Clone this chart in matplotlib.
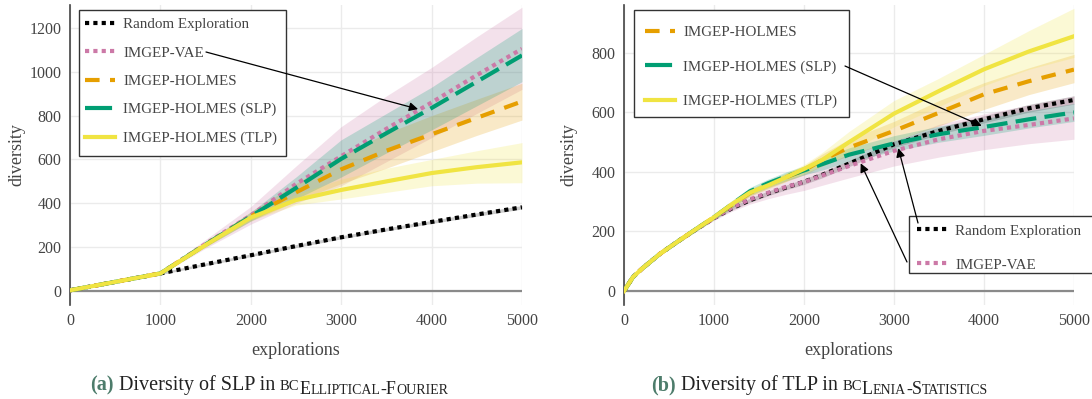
import matplotlib
matplotlib.use("Agg")
import matplotlib.pyplot as plt
from matplotlib.lines import Line2D
from matplotlib.patches import Rectangle
from matplotlib.text import Annotation

# ---------------- data: (a) SLP in BC Elliptical-Fourier ----------------
xa = [0, 1000, 1500, 2000, 2500, 3000, 3500, 4000, 4500, 5000]
a_random = [3, 80, 122, 163, 205, 245, 281, 315, 349, 382]
a_random_lo = [1, 75, 116, 157, 198, 238, 274, 308, 341, 374]
a_random_hi = [5, 85, 128, 169, 212, 252, 288, 322, 357, 390]
a_vae = [3, 80, 215, 345, 488, 615, 740, 860, 985, 1105]
a_vae_lo = [1, 75, 195, 305, 400, 480, 590, 700, 810, 920]
a_vae_hi = [5, 85, 235, 385, 570, 750, 890, 1020, 1160, 1295]
a_holmes = [3, 80, 212, 340, 450, 555, 640, 715, 790, 865]
a_holmes_lo = [1, 76, 202, 318, 410, 490, 560, 635, 710, 780]
a_holmes_hi = [5, 84, 222, 362, 490, 620, 720, 800, 875, 948]
a_slp = [3, 80, 212, 340, 470, 603, 720, 835, 955, 1075]
a_slp_lo = [1, 76, 202, 320, 420, 520, 630, 735, 845, 955]
a_slp_hi = [5, 84, 222, 360, 520, 690, 810, 930, 1065, 1198]
a_tlp = [3, 80, 210, 335, 415, 461, 500, 538, 565, 587]
a_tlp_lo = [1, 76, 200, 322, 392, 420, 450, 480, 492, 494]
a_tlp_hi = [5, 84, 220, 348, 440, 510, 560, 600, 640, 677]

# ---------------- data: (b) TLP in BC Lenia-Statistics ----------------
xb = [0, 100, 200, 400, 600, 800, 1000, 1200, 1400, 1600, 1800, 2000, 2200,
      2500, 3000, 3500, 4000, 4500, 5000]
b_random = [0, 47, 75, 125, 167, 207, 245, 278, 305, 328, 348, 367, 390,
            428, 493, 538, 577, 614, 642]
b_random_lo = [0, 44, 72, 121, 163, 203, 240, 272, 298, 320, 340, 358, 380,
               418, 482, 526, 565, 601, 628]
b_random_hi = [0, 50, 78, 129, 171, 211, 250, 284, 312, 336, 356, 376, 400,
               438, 504, 550, 589, 627, 656]
b_vae = [0, 47, 75, 125, 167, 207, 245, 280, 308, 330, 350, 366, 388,
         420, 471, 510, 538, 558, 580]
b_vae_lo = [0, 44, 71, 120, 161, 200, 237, 268, 292, 310, 325, 338, 355,
            380, 420, 450, 475, 495, 510]
b_vae_hi = [0, 50, 79, 130, 173, 214, 253, 292, 324, 350, 375, 394, 421,
            460, 505, 560, 595, 625, 655]
b_holmes = [0, 47, 75, 125, 167, 208, 248, 290, 330, 358, 382, 405, 440,
            482, 538, 599, 661, 705, 744]
b_holmes_lo = [0, 44, 71, 120, 161, 201, 240, 280, 318, 345, 368, 390, 420,
               455, 505, 555, 610, 660, 700]
b_holmes_hi = [0, 50, 79, 130, 173, 215, 256, 300, 342, 371, 396, 420, 460,
               510, 570, 640, 700, 750, 795]
b_slp = [0, 47, 75, 125, 167, 208, 248, 292, 335, 362, 385, 405, 426,
         458, 496, 527, 551, 577, 600]
b_slp_lo = [0, 44, 71, 120, 161, 201, 240, 280, 322, 348, 370, 390, 406,
            435, 470, 500, 523, 548, 570]
b_slp_hi = [0, 50, 79, 130, 173, 215, 256, 304, 348, 376, 400, 420, 446,
            481, 522, 554, 579, 606, 630]
b_tlp = [0, 47, 75, 125, 167, 208, 248, 292, 331, 355, 382, 410, 440,
         500, 596, 672, 745, 805, 856]
b_tlp_lo = [0, 44, 71, 120, 161, 201, 240, 282, 320, 343, 368, 395, 420,
            466, 552, 620, 690, 745, 785]
b_tlp_hi = [0, 50, 79, 130, 173, 215, 256, 302, 342, 367, 396, 425, 465,
            536, 640, 715, 795, 875, 950]

labels = ["Random Exploration", "IMGEP-VAE", "IMGEP-HOLMES",
          "IMGEP-HOLMES (SLP)", "IMGEP-HOLMES (TLP)"]
xticks = [0, 1000, 2000, 3000, 4000, 5000]
a_yticks = [0, 200, 400, 600, 800, 1000, 1200]
b_yticks = [0, 200, 400, 600, 800]

# ---------------- style ----------------
FONT = "Liberation Serif"
plt.rcParams["font.family"] = [FONT, "DejaVu Serif"]
TXT = "#444444"
colors = ["#000000", "#CC79A7", "#E69F00", "#009E73", "#F0E442"]
styles = [(0, (1, 1)), (0, (1, 1)), (0, (3.5, 2.5)), (0, (5, 2)), "-"]
leg_styles = [(0, (1, 1)), (0, (1, 1)), (0, (3.5, 2.5)), (0, (6.5, 4)), "-"]
LW = 3.0
LEGFS = 10.8

W, H = 1092, 399
fig = plt.figure(figsize=(W / 100, H / 100), dpi=100)


def px_rect(l, t, r, b):
    return [l / W, 1 - b / H, (r - l) / W, (b - t) / H]


def setup(ax, ylim, yticks, ylab_x):
    ax.set_xlim(0, 5000)
    ax.set_ylim(*ylim)
    ax.set_xticks(xticks)
    ax.set_yticks(yticks)
    ax.grid(True, color="#ebebeb", lw=1)
    ax.set_axisbelow(True)
    for s in ["top", "right", "bottom"]:
        ax.spines[s].set_visible(False)
    ax.spines["left"].set_color("#444444")
    ax.spines["left"].set_linewidth(1.2)
    ax.axhline(0, color="#8a8a8a", lw=1.6, zorder=1.5)
    ax.tick_params(length=0, labelsize=11.5, colors=TXT, pad=6)
    ax.set_xlabel("explorations", fontsize=13, color=TXT)
    ax.set_ylabel("diversity", fontsize=13, color=TXT)
    ax.xaxis.set_label_coords(0.5, -0.122)
    ax.yaxis.set_label_coords(ylab_x, 0.5)


def draw(ax, x, series):
    for (m, lo, hi), c in zip(series, colors):
        if c == "#000000":
            ax.fill_between(x, lo, hi, color="#9a9a9a", alpha=0.5, lw=0, zorder=2)
        else:
            ax.fill_between(x, lo, hi, color=c, alpha=0.22, lw=0, zorder=2)
    for (m, lo, hi), c, ls, lab in zip(series, colors, styles, labels):
        ax.plot(x, m, color=c, ls=ls, lw=LW, zorder=3, label=lab)


def handles(idx):
    return [Line2D([], [], color=colors[i], ls=leg_styles[i], lw=LW) for i in idx]


def make_legend(ax, idx, handle_x, row1_y, spacing, box):
    # content anchored at handle start / top of first row (pixels)
    top = row1_y - 5
    leg = ax.legend(handles(idx), [labels[i] for i in idx], loc="upper left",
                    bbox_to_anchor=(handle_x / W, 1 - top / H),
                    bbox_transform=fig.transFigure, borderaxespad=0,
                    borderpad=0, frameon=False, fontsize=LEGFS,
                    labelcolor=TXT, handlelength=2.0, handletextpad=0.55,
                    labelspacing=spacing)
    leg.set_zorder(6)
    l, t, r, b = box
    rect = Rectangle((l / W, 1 - b / H), (r - l) / W, (b - t) / H,
                     transform=fig.transFigure, facecolor="white",
                     edgecolor="#333333", lw=1.0, zorder=5, clip_on=False)
    ax.add_patch(rect)
    return leg


def arrow(ax, tip, tail_px):
    ax.annotate("", xy=tip, xycoords="data",
                xytext=(tail_px[0], H - tail_px[1]), textcoords="figure pixels",
                arrowprops=dict(arrowstyle="-|>", color="black", lw=0.9,
                                shrinkA=0, shrinkB=0, mutation_scale=13),
                zorder=7, annotation_clip=False)


# ---------- panel (a) ----------
ax1 = fig.add_axes(px_rect(70, 5, 522, 305))
setup(ax1, (-64, 1305), a_yticks, -0.099)
draw(ax1, xa, [(a_random, a_random_lo, a_random_hi),
               (a_vae, a_vae_lo, a_vae_hi),
               (a_holmes, a_holmes_lo, a_holmes_hi),
               (a_slp, a_slp_lo, a_slp_hi),
               (a_tlp, a_tlp_lo, a_tlp_hi)])
make_legend(ax1, [0, 1, 2, 3, 4], 85, 22.7, 0.99, (79, 10, 286, 156))
arrow(ax1, (3850, 830), (206, 52))

# ---------- panel (b) ----------
ax2 = fig.add_axes(px_rect(624, 5, 1074, 305))
setup(ax2, (-47, 961), b_yticks, -0.104)
draw(ax2, xb, [(b_random, b_random_lo, b_random_hi),
               (b_vae, b_vae_lo, b_vae_hi),
               (b_holmes, b_holmes_lo, b_holmes_hi),
               (b_slp, b_slp_lo, b_slp_hi),
               (b_tlp, b_tlp_lo, b_tlp_hi)])
leg1 = make_legend(ax2, [2, 3, 4], 645, 31, 1.37, (634, 10, 849, 117))
ax2.add_artist(leg1)
make_legend(ax2, [0, 1], 917, 229, 1.37, (909, 216, 1096, 273))
arrow(ax2, (3974, 555), (845, 66))
arrow(ax2, (3048, 480), (918, 223))
arrow(ax2, (2630, 429), (907, 262))


# ---------- captions ----------
def caption(x_px, y_px, pieces):
    y = 1 - y_px / H
    prev = None
    for p in pieces:
        s, size, col, wt = p[:4]
        dy = p[4] if len(p) > 4 else 0
        if prev is None:
            prev = fig.text(x_px / W, y, s, fontsize=size, color=col,
                            fontweight=wt, va="baseline")
        else:
            prev = fig.add_artist(Annotation(
                s, xy=(1, y), xycoords=(prev, "figure fraction"),
                xytext=(0, dy), textcoords="offset points",
                fontsize=size, color=col, fontweight=wt, va="baseline",
                ha="left"))
    return prev


CAP = "#222222"
GRN = "#4d7c6b"
BIG, SC, SUB, SUBSC = 14.5, 10.5, 13, 10
caption(90, 390, [("(a)", BIG, GRN, "bold"),
                  (" Diversity of SLP in ", BIG, CAP, "normal"),
                  ("BC", SC, CAP, "normal"),
                  ("E", SUB, CAP, "normal", -3),
                  ("LLIPTICAL", SUBSC, CAP, "normal", -3),
                  ("-F", SUB, CAP, "normal", -3),
                  ("OURIER", SUBSC, CAP, "normal", -3)])
caption(651, 390, [("(b)", BIG, GRN, "bold"),
                   (" Diversity of TLP in ", BIG, CAP, "normal"),
                   ("BC", SC, CAP, "normal"),
                   ("L", SUB, CAP, "normal", -3),
                   ("ENIA", SUBSC, CAP, "normal", -3),
                   ("-S", SUB, CAP, "normal", -3),
                   ("TATISTICS", SUBSC, CAP, "normal", -3)])

fig.savefig("out.png", dpi=100)
